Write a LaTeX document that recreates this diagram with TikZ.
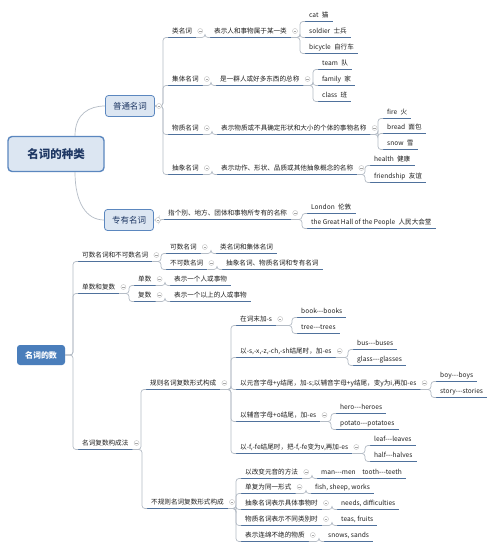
\documentclass[tikz,border=0pt]{standalone}
\usepackage{fontspec}
\setmainfont{Noto Sans CJK SC}
\usepackage{tikz}

\definecolor{uline}{HTML}{4F719C}
\definecolor{linkgray}{HTML}{B4BCC6}
\definecolor{boxfill}{HTML}{DCE6F2}
\definecolor{boxline}{HTML}{5B87BF}
\definecolor{numblue}{HTML}{4A7EBB}
\definecolor{navy}{HTML}{1F3864}

\tikzset{
  topic/.style={anchor=west, inner xsep=4pt, inner ysep=3pt, text height=5.4pt, text depth=1.2pt,
    font=\fontsize{6.6}{7}\selectfont, text=black!88,
    append after command={(\tikzlastnode.south west) edge[draw=uline, line width=1.4pt] (\tikzlastnode.south east)}},
  conn/.style={draw=linkgray, line width=0.7pt, rounded corners=3pt},
  fold/.style={circle, draw=black!25, fill=white, line width=0.4pt, minimum size=5pt, inner sep=0pt,
    path picture={\draw[black!35, line width=0.4pt] ([xshift=1.2pt]path picture bounding box.west) -- ([xshift=-1.2pt]path picture bounding box.east);}},
  mainbox/.style={rounded corners=4pt, draw=boxline, line width=1.4pt, fill=boxfill, minimum width=96pt,
    minimum height=35pt, font=\fontsize{11.5}{13}\selectfont\bfseries, text=navy},
  subbox/.style={rounded corners=3pt, draw=boxline, line width=0.8pt, fill=boxfill, minimum width=49pt,
    minimum height=21pt, font=\fontsize{8.5}{10}\selectfont, text=navy},
  numbox/.style={rounded corners=3pt, fill=numblue, minimum width=48pt, minimum height=20pt,
    font=\fontsize{8}{10}\selectfont\bfseries, text=white},
}

\begin{document}
\begin{tikzpicture}[x=1pt,y=-1pt]
    \fill[white] (0,0) rectangle (500,550);
    \useasboundingbox (0,0) rectangle (500,550);

    \node[mainbox] (kind) at (56,154) {名词的种类};
    \node[subbox] (common) at (130,106) {普通名词};
    \node[subbox] (proper) at (129,220) {专有名词};
    \node[numbox] (number) at (41,355) {名词的数};

    \foreach \n/\x/\y/\t in {
      cls/168/31/类名词, coll/168/79/集体名词, matt/168/128/物质名词, abst/168/168/抽象名词,
      clsd/210/31/表示人和事物属于某一类, colld/216/79/是一群人或好多东西的总称,
      mattd/217/128/表示物质或不具确定形状和大小的个体的事物名称,
      abstd/217/168/表示动作、形状、品质或其他抽象概念的名称,
      cat/305/15/cat\enspace 猫, soldier/305/31/soldier\enspace 士兵, bicycle/305/47/bicycle\enspace 自行车,
      team/318/63/team\enspace 队, family/318/79/family\enspace 家, class/318/95/class\enspace 班,
      fire/383/112/fire\enspace 火, bread/383/127/bread\enspace 面包, snow/383/143/snow\enspace 雪,
      health/370/159/health\enspace 健康, friend/370/176/friendship\enspace 友谊,
      properd/164/213/指个别、地方、团体和事物所专有的名称,
      london/307/207/London\enspace 伦敦, hall/307/222/the Great Hall of the People\enspace 人民大会堂}
      \node[topic] (\n) at (\x,\y) {\t};

    \foreach \n/\x/\y/\t in {
      cnt/78/255/可数名词和不可数名词, sgpl/78/287/单数和复数, form/78/443/名词复数构成法,
      count/166/247/可数名词, uncount/166/263/不可数名词,
      countd/216/247/类名词和集体名词, uncountd/222/263/抽象名词、物质名词和专有名词,
      sg/134/279/单数, pl/134/295/复数, sgd/170/279/表示一个人或事物, pld/170/295/表示一个以上的人或事物,
      reg/146/383/规则名词复数形式构成, irr/147/502/不规则名词复数形式构成,
      r1/236/319/在词末加-s, r2/236/351/{以-s,-x,-z,-ch,-sh结尾时，加-es},
      r3/236/383/{以元音字母+y结尾，加-s;以辅音字母+y结尾，变y为i,再加-es},
      r4/236/415/以辅音字母+o结尾，加-es, r5/236/447/{以-f,-fe结尾时，把-f,-fe变为v,再加-es},
      r1a/297/311/book{-}{-}{-}books, r1b/297/327/tree{-}{-}{-}trees,
      r2a/353/343/bus{-}{-}{-}buses, r2b/353/359/glass{-}{-}{-}glasses,
      r3a/436/375/boy{-}{-}{-}boys, r3b/436/391/story{-}{-}{-}stories,
      r4a/336/407/hero{-}{-}{-}heroes, r4b/336/423/potato{-}{-}{-}potatoes,
      r5a/370/439/leaf{-}{-}{-}leaves, r5b/370/455/half{-}{-}{-}halves,
      i1/241/472/以改变元音的方法, i2/241/487/单复为同一形式, i3/241/503/抽象名词表示具体事物时,
      i4/241/519/物质名词表示不同类别时, i5/241/535/表示连绵不绝的物质,
      i1a/317/472/man{-}{-}{-}men\quad tooth{-}{-}{-}teeth, i2a/311/487/{fish, sheep, works},
      i3a/337/503/{needs, difficulties}, i4a/337/519/{teas, fruits}, i5a/324/535/{snows, sands}}
      \node[topic] (\n) at (\x,\y) {\t};

    \draw[conn] ([xshift=19pt]kind.north) .. controls +(0,-22) and +(-16,0) .. (common.west);
    \draw[conn] ([xshift=19pt]kind.south) .. controls +(0,30) and +(-18,0) .. (proper.west);

    \foreach \p/\c in {common/cls, common/coll, common/matt, common/abst, proper/properd,
                       number/cnt, number/sgpl, number/form}
      \draw[conn] (\p.east) -| ([xshift=-5pt]\c.south west) -- (\c.south west);

    \foreach \p/\c in {cls/clsd, coll/colld, matt/mattd, abst/abstd,
                       clsd/cat, clsd/soldier, clsd/bicycle, colld/team, colld/family, colld/class,
                       mattd/fire, mattd/bread, mattd/snow, abstd/health, abstd/friend,
                       properd/london, properd/hall,
                       cnt/count, cnt/uncount, count/countd, uncount/uncountd,
                       sgpl/sg, sgpl/pl, sg/sgd, pl/pld, form/reg, form/irr,
                       reg/r1, reg/r2, reg/r3, reg/r4, reg/r5,
                       r1/r1a, r1/r1b, r2/r2a, r2/r2b, r3/r3a, r3/r3b, r4/r4a, r4/r4b, r5/r5a, r5/r5b,
                       irr/i1, irr/i2, irr/i3, irr/i4, irr/i5,
                       i1/i1a, i2/i2a, i3/i3a, i4/i4a, i5/i5a}
      \draw[conn] (\p.south east) -| ([xshift=-5pt]\c.south west) -- (\c.south west);

    \foreach \p in {common, proper, cls, coll, matt, abst, clsd, colld, mattd, abstd, properd,
                    cnt, count, uncount, sgpl, sg, pl, form, reg, irr,
                    r1, r2, r3, r4, r5, i1, i2, i3, i4, i5}
      \node[fold] (f-\p) at ([xshift=4pt]\p.east) {};
\end{tikzpicture}
\end{document}
